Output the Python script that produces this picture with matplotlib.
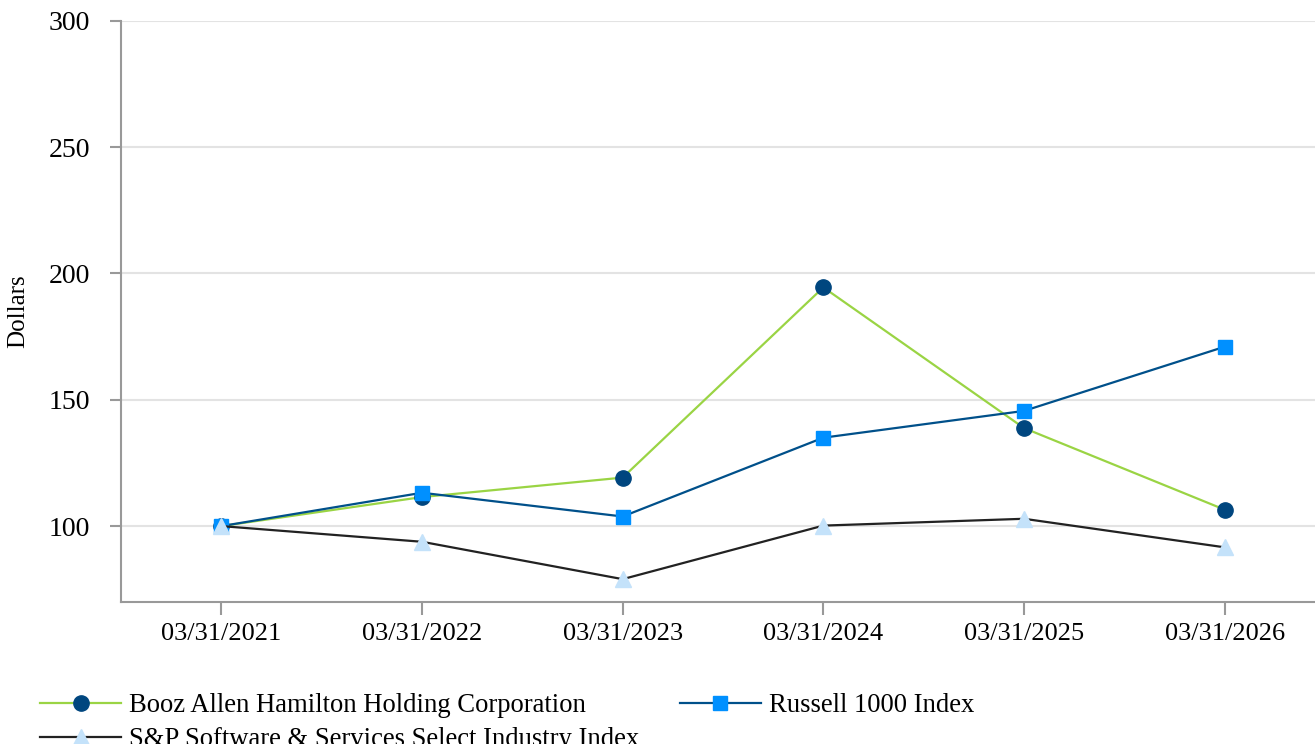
import matplotlib.pyplot as plt

# podaci procitani sa slike
dates = ["03/31/2021", "03/31/2022", "03/31/2023", "03/31/2024", "03/31/2025", "03/31/2026"]
booz = [100, 111.5, 119.2, 194.5, 138.8, 106.5]
russell = [100, 113.2, 103.8, 135.0, 145.6, 171.0]
sp_software = [100, 93.8, 79.0, 100.2, 102.9, 91.6]
yticks = [100, 150, 200, 250, 300]

plt.rcParams['font.family'] = ['Liberation Serif', 'DejaVu Serif']
fs = 19

fig = plt.figure(figsize=(13.15, 7.44), dpi=100)
ax = fig.add_axes([0.092, 0.191, 0.908, 0.781])

x = list(range(len(dates)))
l1, = ax.plot(x, booz, color="#9ad444", lw=1.6, marker="o", ms=11,
              mfc="#00467f", mec="#00467f", label="Booz Allen Hamilton Holding Corporation", zorder=3)
l2, = ax.plot(x, russell, color="#00508a", lw=1.6, marker="s", ms=10.5,
              mfc="#0090ff", mec="#0090ff", label="Russell 1000 Index", zorder=4)
l3, = ax.plot(x, sp_software, color="#222222", lw=1.6, marker="^", ms=11,
              mfc="#c4e2fa", mec="#c4e2fa", label="S&P Software & Services Select Industry Index", zorder=5)

ax.set_xlim(-0.5, 5.45)
ax.set_ylim(70, 300)
ax.set_xticks(x)
ax.set_xticklabels(dates, fontsize=fs)
ax.set_yticks(yticks)
ax.set_yticklabels([str(v) for v in yticks], fontsize=fs + 1)
ax.set_ylabel("Dollars", fontsize=fs - 1, labelpad=14)

ax.grid(axis="y", color="#e3e3e3", lw=1.5)
ax.set_axisbelow(True)
for s in ["top", "right"]:
    ax.spines[s].set_visible(False)
for s in ["left", "bottom"]:
    ax.spines[s].set_color("#999999")
    ax.spines[s].set_linewidth(1.5)
ax.tick_params(axis="y", length=8, width=1.5, color="#999999", pad=14)
ax.tick_params(axis="x", length=9, width=1.5, color="#999999", pad=6)

# redoslijed da se dobije raspored po redovima
fig.legend([l1, l3, l2], [l1.get_label(), l3.get_label(), l2.get_label()],
           loc="upper left", bbox_to_anchor=(0.0305, 0.068), ncol=2, frameon=False,
           fontsize=fs + 0.2, handlelength=3.05, handletextpad=0.3, labelspacing=0.32,
           columnspacing=1.5, borderpad=0, borderaxespad=0)

fig.savefig("out.png", dpi=100)
